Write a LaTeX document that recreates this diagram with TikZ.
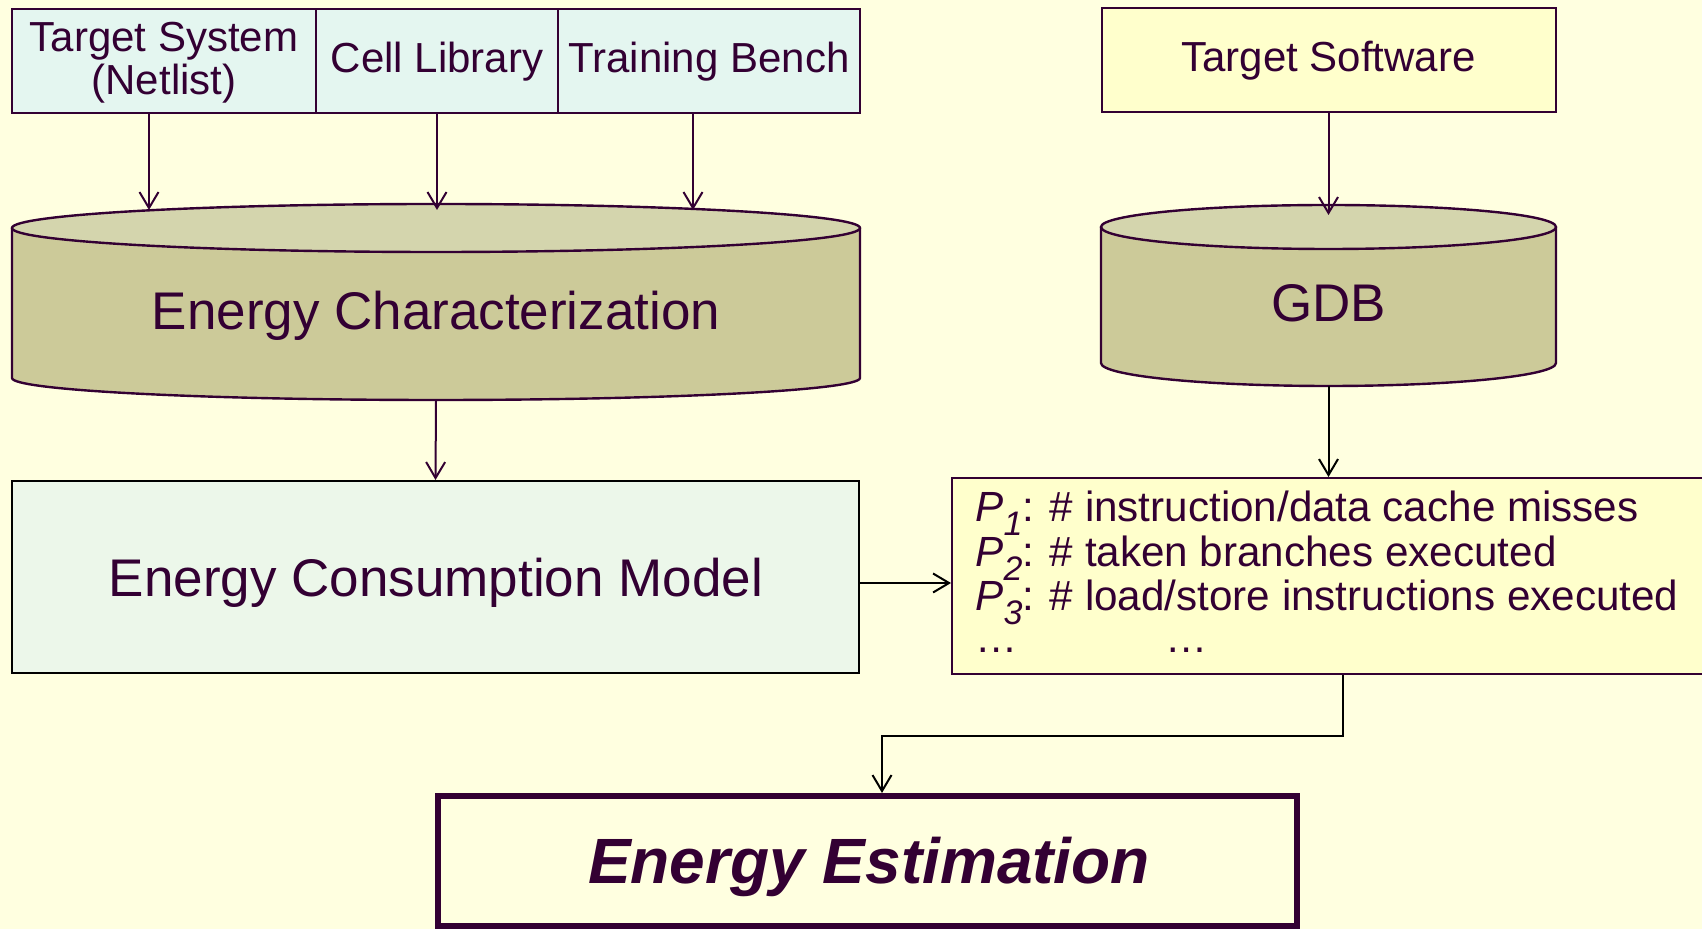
\documentclass[tikz,border=0pt]{standalone}
\usepackage{fontspec}
\setmainfont{Liberation Sans}
\usetikzlibrary{arrows.meta}
\definecolor{bg}{HTML}{FFFFE0}
\definecolor{txt}{HTML}{330033}
\definecolor{ln}{HTML}{330033}
\definecolor{cyanbox}{HTML}{E4F6F0}
\definecolor{greenbox}{HTML}{ECF7EA}
\definecolor{yelbox}{HTML}{FFFFCC}
\definecolor{cylbody}{HTML}{CCCA99}
\definecolor{cyltop}{HTML}{D4D5AD}
\newcommand{\psub}[1]{\textit{P}\raisebox{-0.32em}{\fontsize{17pt}{17pt}\selectfont\textit{#1}}}
\tikzset{
  lbl/.style={text=txt, inner sep=0pt, anchor=base},
  smallf/.style={font=\fontsize{21pt}{21.5pt}\selectfont},
  bigf/.style={font=\fontsize{26.5pt}{30pt}\selectfont},
  plist/.style={lbl, anchor=base west, font=\fontsize{21.1pt}{22pt}\selectfont},
  arr/.style={-{Straight Barb[length=8pt,width=9.5pt,line width=1pt]}, line width=1pt, draw=ln},
  arrk/.style={-{Straight Barb[length=8pt,width=9.5pt,line width=1pt]}, line width=1pt, draw=black},
  boxbase/.style={rectangle, inner sep=0pt, line width=1pt, draw=ln},
  cylline/.style={line width=1.2pt, draw=ln},
}
\begin{document}
\begin{tikzpicture}[x=0.5pt,y=-0.5pt]
\fill[bg] (0,0) rectangle (1702,929);
\useasboundingbox (0,0) rectangle (1702,929);

% top input boxes
\node[boxbase, fill=cyanbox, minimum width=152pt, minimum height=52pt] (ts) at (164,61) {};
\node[boxbase, fill=cyanbox, minimum width=121pt, minimum height=52pt] (cl) at (437,61) {};
\node[boxbase, fill=cyanbox, minimum width=151pt, minimum height=52pt] (tb) at (709,61) {};
\node[lbl, smallf, align=center] (tslbl) at (164,95) {Target System\\(Netlist)};
\node[lbl, smallf] (cllbl) at (437,73) {Cell Library};
\node[lbl, smallf] (tblbl) at (709,73) {Training Bench};

\node[boxbase, fill=yelbox, minimum width=227pt, minimum height=52pt] (tsw) at (1328.5,60.5) {};
\node[lbl, smallf] (tswlbl) at (1328.5,72) {Target Software};

% Energy Characterization cylinder
\fill[cylbody] (12,228) -- (12,378) arc[start angle=180,end angle=360,x radius=212pt,y radius=11pt] -- (860,228) -- cycle;
\draw[cylline] (12,228) -- (12,378) arc[start angle=180,end angle=360,x radius=212pt,y radius=11pt] -- (860,228);
\draw[cylline, fill=cyltop] (436,228) ellipse [x radius=212pt, y radius=12pt];
\node[inner sep=0pt, minimum width=424pt, minimum height=98pt] (ec) at (436,302) {};
\node[lbl, bigf] (eclbl) at (436,330) {Energy Characterization};

% GDB cylinder
\fill[cylbody] (1101,227) -- (1101,363) arc[start angle=180,end angle=360,x radius=113.75pt,y radius=11.5pt] -- (1556,227) -- cycle;
\draw[cylline] (1101,227) -- (1101,363) arc[start angle=180,end angle=360,x radius=113.75pt,y radius=11.5pt] -- (1556,227);
\draw[cylline, fill=cyltop] (1328.5,227) ellipse [x radius=113.75pt, y radius=11pt];
\node[inner sep=0pt, minimum width=227.5pt, minimum height=90.5pt] (gdb) at (1328.5,295.5) {};
\node[lbl, bigf] (gdblbl) at (1328.5,322) {GDB};

% Energy Consumption Model
\node[rectangle, inner sep=0pt, line width=1pt, draw=black, fill=greenbox, minimum width=423.5pt, minimum height=96pt] (ecm) at (435.5,577) {};
\node[lbl, bigf] (ecmlbl) at (436,597) {Energy Consumption Model};

% parameter list box
\node[boxbase, fill=yelbox, minimum width=380pt, minimum height=98pt, anchor=north west] (pbox) at (951,477) {};
\node[plist] (p1) at (975,522) {\psub{1}: \# instruction/data cache misses};
\node[plist] (p2) at (975,567) {\psub{2}: \# taken branches executed};
\node[plist] (p3) at (975,611) {\psub{3}: \# load/store instructions executed};
\node[plist] (pd1) at (975,653) {…};
\node[plist] (pd2) at (1165,653) {…};

% Energy Estimation
\node[rectangle, inner sep=0pt, line width=3pt, draw=ln, minimum width=429.5pt, minimum height=65pt] (ee) at (867.5,861) {};
\node[lbl, font=\fontsize{32pt}{36pt}\selectfont\bfseries\itshape] (eelbl) at (869,883) {Energy Estimation};

% connector end points
\coordinate (ein1) at (149,210);
\coordinate (ein2) at (437,210);
\coordinate (ein3) at (693,210);
\coordinate (gin) at (1328.5,215);
\coordinate (bend) at (882,736);

\draw[arr] (ts.south -| ein1) -- (ein1);
\draw[arr] (cl.south -| ein2) -- (ein2);
\draw[arr] (tb.south -| ein3) -- (ein3);
\draw[arr] (tsw.south) -- (gin);
\draw[arr] (ec.south) -- (ecm.north);
\draw[arrk] (gdb.south) -- (pbox.north -| gdb.south);
\draw[arrk] (ecm.east |- 0,583) -- (pbox.west |- 0,583);
\draw[arrk] (pbox.south -| 1343,0) |- (bend) -- (ee.north -| bend);
\end{tikzpicture}
\end{document}
